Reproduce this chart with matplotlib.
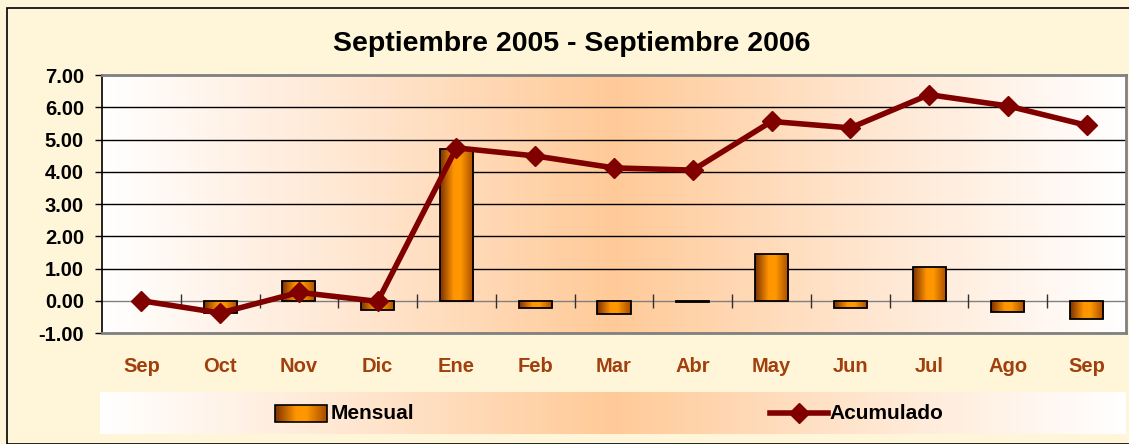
import numpy as np
import matplotlib
matplotlib.use("Agg")
from matplotlib import pyplot as plt
from matplotlib.colors import LinearSegmentedColormap
from matplotlib.patches import Rectangle
from matplotlib.lines import Line2D

plt.rcParams['font.family'] = ['Liberation Sans', 'DejaVu Sans']
plt.rcParams['font.weight'] = 'bold'

# data
meses = ['Sep', 'Oct', 'Nov', 'Dic', 'Ene', 'Feb', 'Mar', 'Abr', 'May', 'Jun', 'Jul', 'Ago', 'Sep']
mensual = [0.0, -0.38, 0.61, -0.29, 4.72, -0.24, -0.40, -0.05, 1.45, -0.24, 1.05, -0.34, -0.57]
acumulado = [0.0, -0.38, 0.26, -0.02, 4.74, 4.49, 4.12, 4.05, 5.56, 5.36, 6.39, 6.04, 5.44]
titulo = 'Septiembre 2005 - Septiembre 2006'

W, H = 1129, 444
fig = plt.figure(figsize=(W / 100, H / 100), dpi=100)
fig.patch.set_facecolor('#fff6da')

# outer frame
fig.add_artist(Rectangle((7 / W, 0), 1.2, (H - 8) / H, transform=fig.transFigure,
                         fill=False, edgecolor='black', lw=1.2))

fondo = LinearSegmentedColormap.from_list('fondo', ['#ffffff', '#ffe6d0', '#ffca98', '#ffe6d0', '#ffffff'])
barcm = LinearSegmentedColormap.from_list('barra', [(0, '#7a3000'), (0.4, '#ff9400'),
                                                    (0.6, '#ff9900'), (1, '#a64a00')])

ax = fig.add_axes([102 / W, (H - 333) / H, 1024 / W, (333 - 75) / H])
ax.set_facecolor('white')
grad = np.linspace(0, 1, 256).reshape(1, -1)
ax.imshow(grad, cmap=fondo, extent=[0, 1, 0, 1], transform=ax.transAxes,
          aspect='auto', zorder=0)

x = np.arange(len(meses))
ancho = 0.42
barras = ax.bar(x, mensual, width=ancho, facecolor='none', edgecolor='black',
                linewidth=1.3, zorder=3)
for b in barras:
    x0, y0 = b.get_x(), b.get_y()
    w, h = b.get_width(), b.get_height()
    if abs(h) < 1e-9:
        b.set_linewidth(0)
        continue
    im = ax.imshow(grad, cmap=barcm, extent=[x0, x0 + w, y0, y0 + h],
                   aspect='auto', zorder=2)
    im.set_clip_path(b)

ax.plot(x, acumulado, color='#800000', lw=4, marker='D', markersize=10, zorder=4)

ax.set_xlim(-0.5, len(meses) - 0.5)
ax.set_ylim(-1, 7)
ax.set_yticks(np.arange(-1, 8))
ax.set_yticklabels(['%.2f' % v for v in np.arange(-1, 8)])
for v in range(-1, 8):
    ax.axhline(v, color='black' if v not in (0, 7, -1) else '#808080', lw=1, zorder=1)

# small ticks at category boundaries on the zero line
ax.vlines(x[:-1] + 0.5, -0.22, 0.22, color='#303030', lw=1, zorder=1)

ax.set_xticks(x)
ax.set_xticklabels(meses, color='#a0400c', fontsize=14.5, fontweight='bold')
ax.tick_params(axis='x', length=0, pad=17)
ax.tick_params(axis='y', length=5, width=1, direction='out', pad=8,
               labelsize=14.5, colors='black')
for s in ['top', 'right', 'bottom']:
    ax.spines[s].set_color('#808080')
    ax.spines[s].set_linewidth(2)
ax.spines['left'].set_color('black')
ax.spines['left'].set_linewidth(1.2)

fig.text(572 / W, 1 - 44 / H, titulo, ha='center', va='center', fontsize=20.5, fontweight='bold')

# legend strip
lg = fig.add_axes([100 / W, (H - 434) / H, 1026 / W, (434 - 392) / H])
lg.imshow(grad, cmap=fondo, extent=[0, 1, 0, 1], aspect='auto', zorder=0)
lg.set_xlim(0, 1)
lg.set_ylim(0, 1)
lg.axis('off')
rx0, rx1 = (275 - 100) / 1026, (327 - 100) / 1026
rect = Rectangle((rx0, 0.28), rx1 - rx0, 0.42, facecolor='none', edgecolor='black', lw=1.2, zorder=3)
lg.add_patch(rect)
imr = lg.imshow(grad, cmap=barcm, extent=[rx0, rx1, 0.28, 0.7], aspect='auto', zorder=2)
imr.set_clip_path(rect)
lg.text((331 - 100) / 1026, 0.5, 'Mensual', va='center', ha='left', fontsize=15, fontweight='bold')
lg.add_line(Line2D([(770 - 100) / 1026, (828 - 100) / 1026], [0.5, 0.5], color='#800000',
                   lw=4, zorder=3))
lg.plot([(799 - 100) / 1026], [0.5], marker='D', color='#800000', markersize=10, zorder=4)
lg.text((829 - 100) / 1026, 0.5, 'Acumulado', va='center', ha='left', fontsize=15, fontweight='bold')

fig.savefig('out.png', dpi=100, facecolor=fig.get_facecolor())
